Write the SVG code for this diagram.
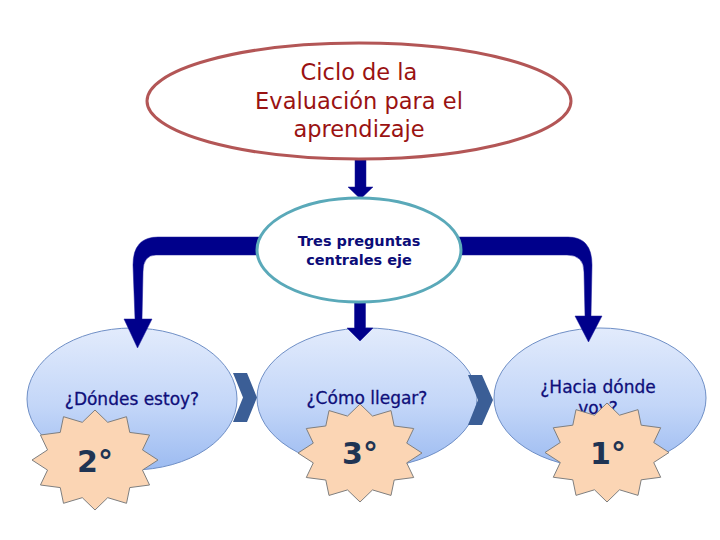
<svg xmlns="http://www.w3.org/2000/svg" width="720" height="540" viewBox="0 0 720 540">
<defs>
<linearGradient id="blueGrad" x1="0" y1="0" x2="0" y2="1">
<stop offset="0" stop-color="#e2ebfc"/>
<stop offset="0.55" stop-color="#c3d6f8"/>
<stop offset="1" stop-color="#9cbbf1"/>
</linearGradient>
<style>
.q{fill:url(#blueGrad);stroke:#6f8fc6;stroke-width:1}
.qt{font-family:"DejaVu Sans",Verdana,sans-serif;font-size:17px;fill:#0e0e7a;text-anchor:middle;stroke:#0e0e7a;stroke-width:0.3}
.star{fill:#fbd5b4;stroke:#7f7f7f;stroke-width:1;vector-effect:non-scaling-stroke}
.num{font-family:"DejaVu Sans",Verdana,sans-serif;font-size:30px;font-weight:bold;fill:#1f3453;text-anchor:middle}
.chev{fill:#3b5e96}
.arr{fill:#00008b;stroke:#1a1a9a;stroke-width:0.5}
.tres{font-family:"DejaVu Sans",Verdana,sans-serif;font-size:14.5px;font-weight:bold;fill:#0c0c78;text-anchor:middle}
.ciclo{font-family:"DejaVu Sans",Verdana,sans-serif;font-size:22.5px;fill:#9a1212;text-anchor:middle}
</style>
</defs>
<rect width="720" height="540" fill="#ffffff"/>

<g id="node-donde">
<ellipse class="q" cx="132" cy="399" rx="105" ry="71"/>
<text class="qt" x="132" y="405">¿Dóndes estoy?</text>
</g>
<g id="node-como">
<ellipse class="q" cx="367" cy="398" rx="110" ry="70"/>
<text class="qt" x="367" y="404">¿Cómo llegar?</text>
</g>
<g id="node-hacia">
<ellipse class="q" cx="600" cy="398" rx="106" ry="70"/>
<text class="qt" x="598" y="393">¿Hacia dónde</text>
<text class="qt" x="598" y="414">voy?</text>
</g>

<g id="chevrons">
<polygon class="chev" points="233,373 247,373 257,397.5 247,422 233,422 243,397.5"/>
<polygon class="chev" points="468,375 482,375 493,400 482,425 468,425 478,400"/>
</g>

<g id="star-2">
<path class="star" d="M0,-50 L10.09,-37.67 L25,-43.3 L27.58,-27.58 L43.3,-25 L37.67,-10.09 L50,0 L37.67,10.09 L43.3,25 L27.58,27.58 L25,43.3 L10.09,37.67 L0,50 L-10.09,37.67 L-25,43.3 L-27.58,27.58 L-43.3,25 L-37.67,10.09 L-50,0 L-37.67,-10.09 L-43.3,-25 L-27.58,-27.58 L-25,-43.3 L-10.09,-37.67 Z" transform="translate(95,460) scale(1.26,1)"/>
<text class="num" x="95" y="472">2°</text>
</g>
<g id="star-3">
<path class="star" d="M0,-50 L10.09,-37.67 L25,-43.3 L27.58,-27.58 L43.3,-25 L37.67,-10.09 L50,0 L37.67,10.09 L43.3,25 L27.58,27.58 L25,43.3 L10.09,37.67 L0,50 L-10.09,37.67 L-25,43.3 L-27.58,27.58 L-43.3,25 L-37.67,10.09 L-50,0 L-37.67,-10.09 L-43.3,-25 L-27.58,-27.58 L-25,-43.3 L-10.09,-37.67 Z" transform="translate(360,453) scale(1.24,0.98)"/>
<text class="num" x="360" y="464">3°</text>
</g>
<g id="star-1">
<path class="star" d="M0,-50 L10.09,-37.67 L25,-43.3 L27.58,-27.58 L43.3,-25 L37.67,-10.09 L50,0 L37.67,10.09 L43.3,25 L27.58,27.58 L25,43.3 L10.09,37.67 L0,50 L-10.09,37.67 L-25,43.3 L-27.58,27.58 L-43.3,25 L-37.67,10.09 L-50,0 L-37.67,-10.09 L-43.3,-25 L-27.58,-27.58 L-25,-43.3 L-10.09,-37.67 Z" transform="translate(607,452.5) scale(1.24,0.99)"/>
<text class="num" x="608" y="464">1°</text>
</g>

<g id="connectors">
<path class="arr" d="M355 158 L366 158 L366 187 L373 187 L360.5 199 L348 187 L355 187 Z"/>
<path class="arr" d="M354.5 300 L365.5 300 L365.5 328 L373 328 L360 341 L347 328 L354.5 328 Z"/>
<path class="arr" d="M270 237 L158 237 Q133 237 133 265 L135 319 L124 319 L137.5 348 L152 319 L142 319 L143 272 Q143 255 156 255 L270 255 Z"/>
<path class="arr" d="M450 237 L568 237 Q592 237 592 265 L591 316 L602 316 L588.5 342 L575 316 L585 316 L584 272 Q584 255 567 255 L450 255 Z"/>
</g>

<g id="node-tres">
<ellipse cx="359" cy="250" rx="102" ry="52" fill="#ffffff" stroke="#5aa9b9" stroke-width="3"/>
<text class="tres" x="359" y="246">Tres preguntas</text>
<text class="tres" x="359" y="265">centrales eje</text>
</g>

<g id="node-ciclo">
<ellipse cx="359" cy="101" rx="212" ry="58" fill="#ffffff" stroke="#b35656" stroke-width="3"/>
<text class="ciclo" x="359" y="80">Ciclo de la</text>
<text class="ciclo" x="359" y="109">Evaluación para el</text>
<text class="ciclo" x="359" y="137">aprendizaje</text>
</g>
</svg>
